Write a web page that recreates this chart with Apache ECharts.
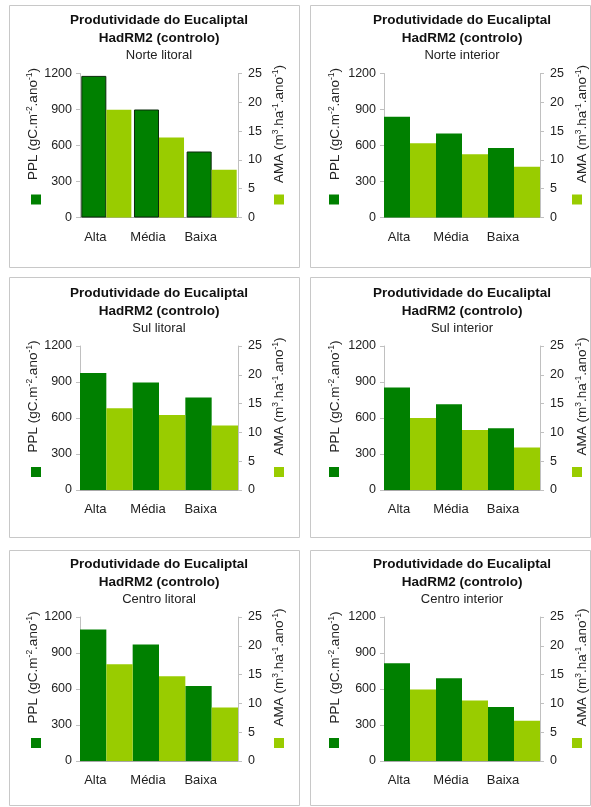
<!DOCTYPE html>
<html>
<head>
<meta charset="utf-8">
<script src="https://cdn.jsdelivr.net/npm/echarts@6/dist/echarts.min.js"></script>
<style>
  body { margin: 0; background: #fff; }
  #chart { width: 591px; height: 807px; }
</style>
</head>
<body>
<div id="chart"></div>
<script>
// categorias e dados
const categories = ['Alta', 'Média', 'Baixa'];
const regions = ['Norte litoral', 'Norte interior', 'Sul litoral', 'Sul interior', 'Centro litoral', 'Centro interior'];

const pplNorteLitoral = [1180, 900, 550];
const amaNorteLitoral = [18.7, 13.9, 8.3];
const pplNorteInterior = [840, 700, 580];
const amaNorteInterior = [12.9, 11.0, 8.8];
const pplSulLitoral = [975, 895, 770];
const amaSulLitoral = [14.2, 13.0, 11.2];
const pplSulInterior = [855, 715, 515];
const amaSulInterior = [12.5, 10.4, 7.4];
const pplCentroLitoral = [1095, 970, 625];
const amaCentroLitoral = [16.8, 14.7, 9.3];
const pplCentroInterior = [815, 690, 450];
const amaCentroInterior = [12.4, 10.5, 7.0];

const pplTicks = { min: 0, max: 1200, interval: 300 };
const amaTicks = { min: 0, max: 25, interval: 5 };

const pplSeries = [pplNorteLitoral, pplNorteInterior, pplSulLitoral, pplSulInterior, pplCentroLitoral, pplCentroInterior];
const amaSeries = [amaNorteLitoral, amaNorteInterior, amaSulLitoral, amaSulInterior, amaCentroLitoral, amaCentroInterior];

const FONT = 'Liberation Sans, Arial, sans-serif';
const DARK = '#008000';
const LIGHT = '#99cc00';
const AXIS_GRAY = '#c0c0c0';

// layout por coluna / linha
const cols = [
  { boxL: 9, boxR: 299, plotL: 80, plotW: 158, gapL: 34, gapR: 33, sqL: 31, sqR: 274 },
  { boxL: 310, boxR: 590, plotL: 384, plotW: 156, gapL: 41, gapR: 34, sqL: 329, sqR: 572 }
];
const rows = [
  { boxT: 5, boxB: 267, plotT: 73.5 },
  { boxT: 277, boxB: 537, plotT: 346 },
  { boxT: 550, boxB: 805, plotT: 617 }
];
const PLOT_H = 144;

const chart = echarts.init(document.getElementById('chart'));

const grid = [], xAxis = [], yAxis = [], series = [], title = [], legend = [], graphic = [];

const nameRich = {
  a: { fontSize: 13.5, fontFamily: FONT, color: '#222', lineHeight: 16 },
  s: { fontSize: 8.5, fontFamily: FONT, color: '#222', verticalAlign: 'top', lineHeight: 16 }
};

regions.forEach((region, i) => {
  const c = cols[i % 2];
  const r = rows[Math.floor(i / 2)];

  graphic.push({
    type: 'rect',
    shape: { x: c.boxL + 0.5, y: r.boxT + 0.5, width: c.boxR - c.boxL, height: r.boxB - r.boxT },
    style: { fill: 'none', stroke: '#c8c8c8', lineWidth: 1 },
    silent: true
  });

  grid.push({ left: c.plotL, top: r.plotT, width: c.plotW, height: PLOT_H });

  title.push({
    text: 'Produtividade do Eucaliptal\nHadRM2 (controlo)',
    subtext: region,
    left: c.plotL + c.plotW / 2,
    top: r.plotT - 62,
    textAlign: 'center',
    padding: 0,
    itemGap: 0,
    textStyle: { fontFamily: FONT, fontSize: 13.5, fontWeight: 'bold', color: '#111', lineHeight: 18 },
    subtextStyle: { fontFamily: FONT, fontSize: 13, color: '#222', lineHeight: 16 }
  });

  xAxis.push({
    type: 'category',
    gridIndex: i,
    data: categories,
    axisLine: { lineStyle: { color: '#a8a8a8' } },
    axisTick: { show: false },
    axisLabel: { fontFamily: FONT, fontSize: 13, color: '#222', margin: 13, padding: [0, 22, 0, 0] }
  });

  yAxis.push({
    type: 'value',
    gridIndex: i,
    position: 'left',
    min: pplTicks.min, max: pplTicks.max, interval: pplTicks.interval,
    splitLine: { show: false },
    axisLine: { show: true, lineStyle: { color: AXIS_GRAY } },
    axisTick: { show: true, length: 4, lineStyle: { color: AXIS_GRAY } },
    axisLabel: { fontFamily: FONT, fontSize: 12.5, color: '#222', margin: 8, formatter: v => String(v) },
    name: '{a|PPL (gC.m}{s|-2}{a|.ano}{s|-1}{a|)}',
    nameLocation: 'middle',
    nameGap: c.gapL,
    nameTextStyle: { rich: nameRich, padding: [0, 0, 0, 43] }
  });
  yAxis.push({
    type: 'value',
    gridIndex: i,
    position: 'right',
    min: amaTicks.min, max: amaTicks.max, interval: amaTicks.interval,
    splitLine: { show: false },
    axisLine: { show: true, lineStyle: { color: AXIS_GRAY } },
    axisTick: { show: true, length: 4, lineStyle: { color: AXIS_GRAY } },
    axisLabel: { fontFamily: FONT, fontSize: 12.5, color: '#222', margin: 10, formatter: v => String(v) },
    name: '{a|AMA (m}{s|3}{a|.ha}{s|-1}{a|.ano}{s|-1}{a|)}',
    nameLocation: 'middle',
    nameGap: c.gapR,
    nameTextStyle: { rich: nameRich, padding: [0, 0, 0, 43] }
  });

  series.push({
    name: 'PPL',
    type: 'bar',
    xAxisIndex: i,
    yAxisIndex: i * 2,
    data: pplSeries[i],
    barGap: '0%',
    barCategoryGap: i === 0 ? '5%' : '0%',
    itemStyle: i === 0 ? { color: DARK, borderColor: '#0a2a0a', borderWidth: 1 } : { color: DARK }
  });
  series.push({
    name: 'AMA',
    type: 'bar',
    xAxisIndex: i,
    yAxisIndex: i * 2 + 1,
    data: amaSeries[i],
    barGap: '0%',
    barCategoryGap: i === 0 ? '5%' : '0%',
    itemStyle: { color: LIGHT }
  });

  legend.push({
    data: ['PPL'], left: c.sqL, top: r.plotT + 121, padding: 0,
    icon: 'rect', itemWidth: 10, itemHeight: 10, formatter: () => '', selectedMode: false,
    itemStyle: { color: DARK, borderWidth: 0 }
  });
  legend.push({
    data: ['AMA'], left: c.sqR, top: r.plotT + 121, padding: 0,
    icon: 'rect', itemWidth: 10, itemHeight: 10, formatter: () => '', selectedMode: false,
    itemStyle: { color: LIGHT, borderWidth: 0 }
  });
});

chart.setOption({
  backgroundColor: '#fff',
  animation: false,
  title,
  legend,
  grid,
  xAxis,
  yAxis,
  series,
  graphic
});
</script>
</body>
</html>
